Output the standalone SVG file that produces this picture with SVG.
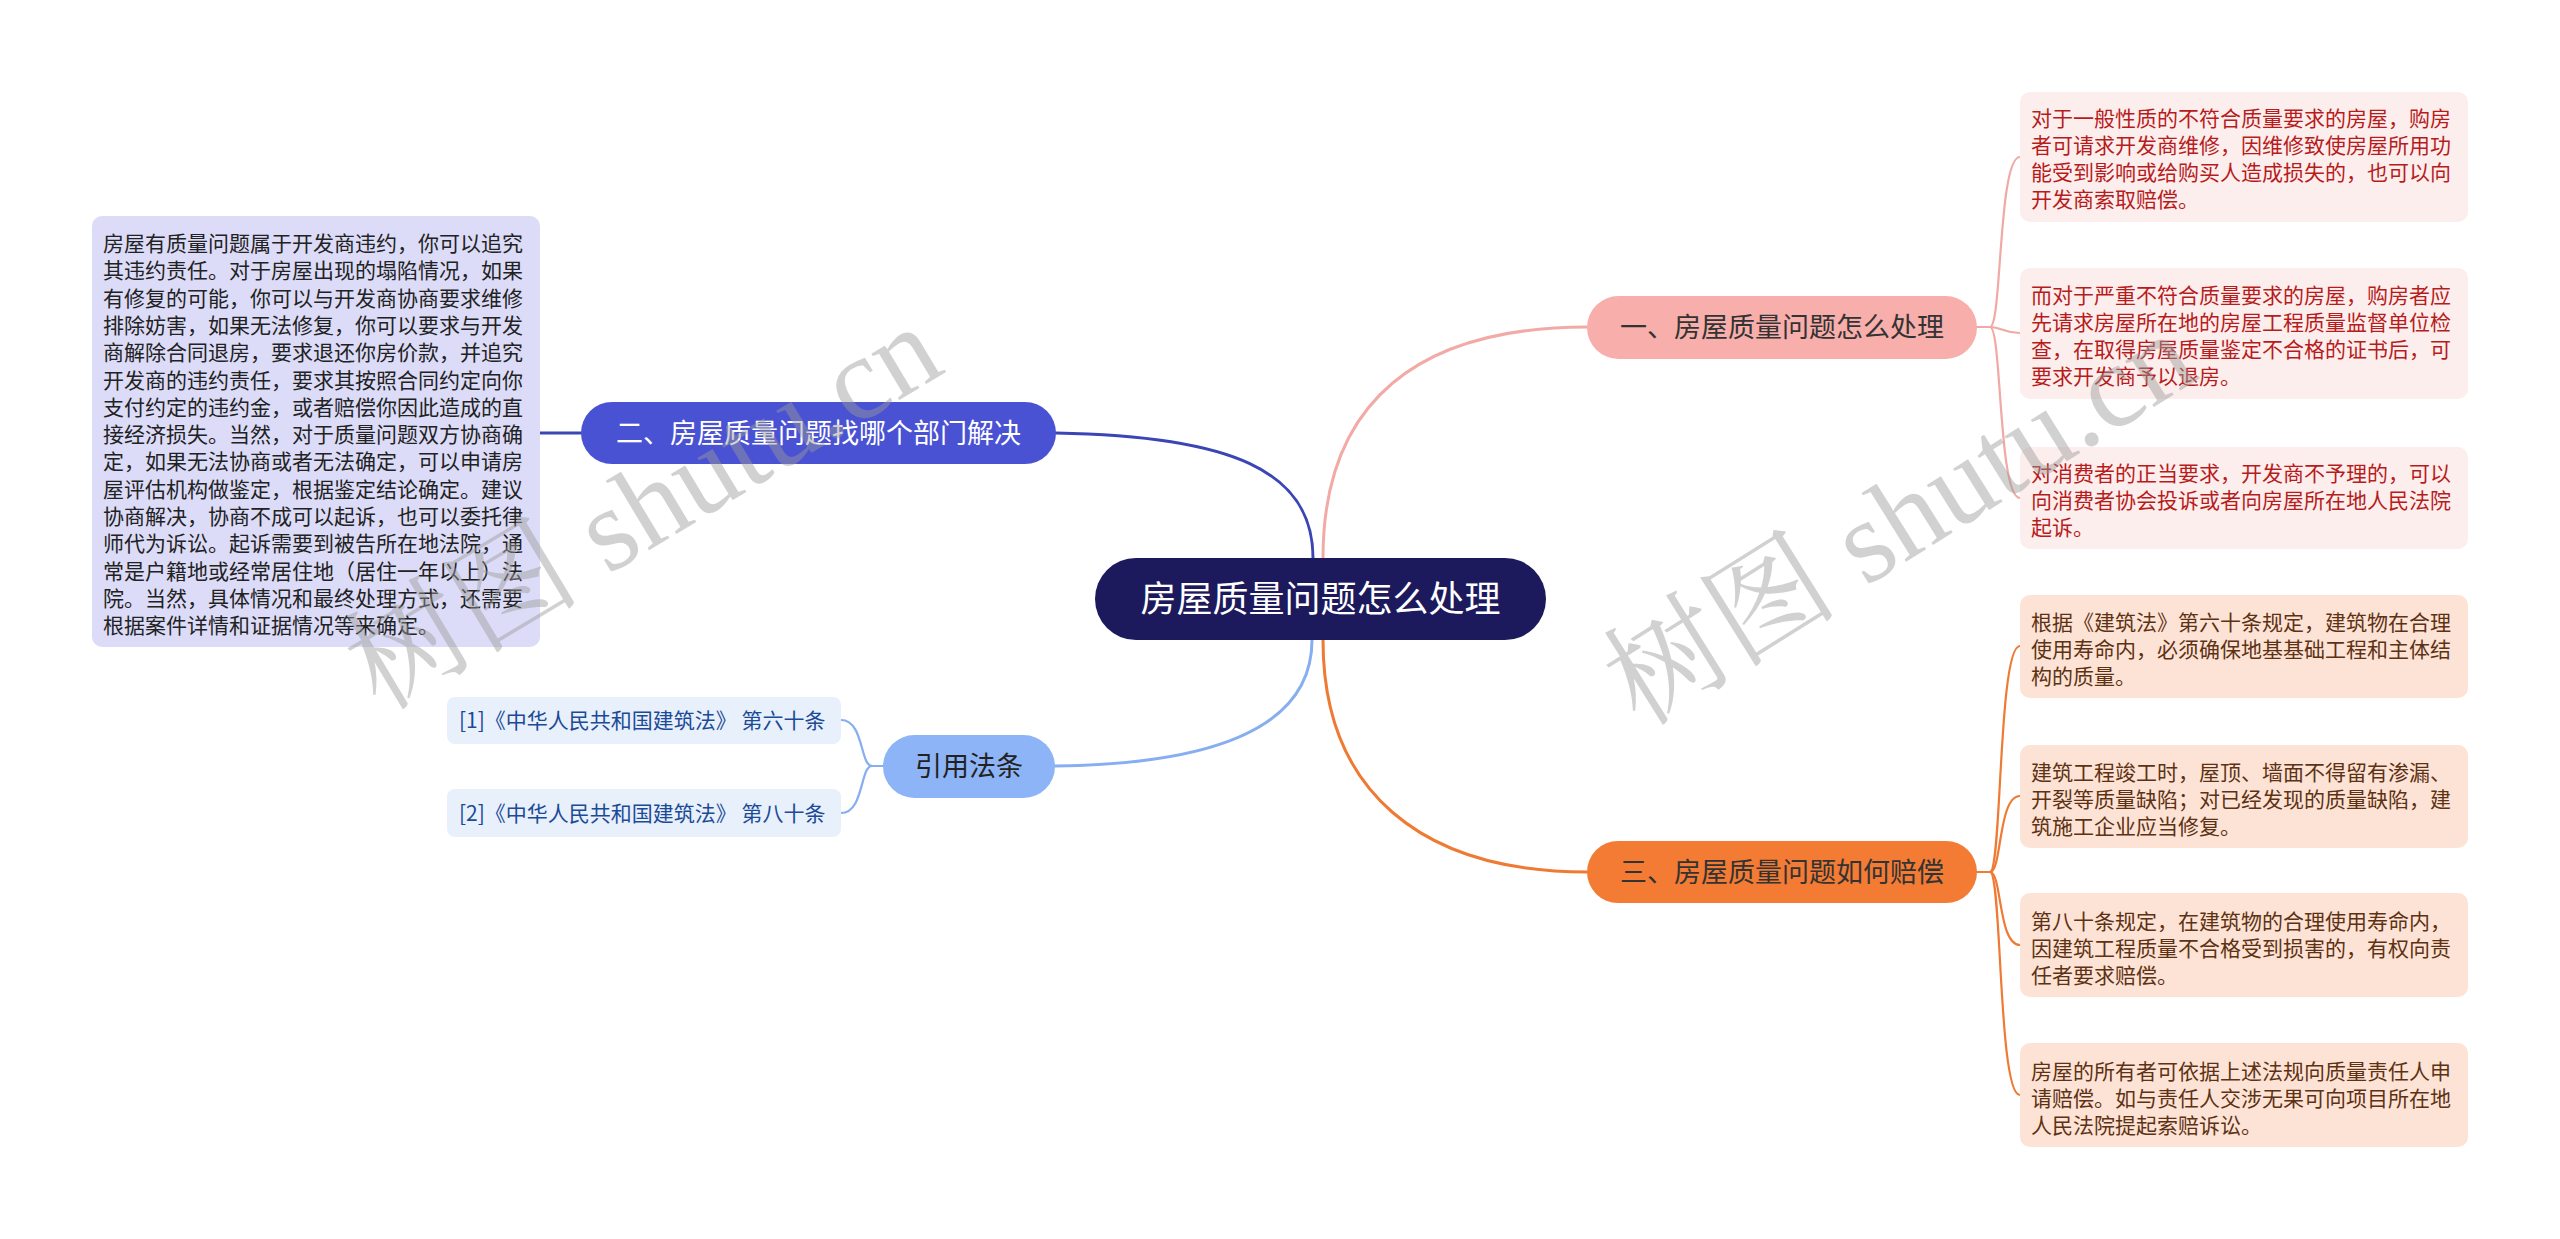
<svg xmlns="http://www.w3.org/2000/svg" width="2560" height="1239" viewBox="0 0 2560 1239">
<style>
text{font-family:"Noto Sans CJK SC","Liberation Sans",sans-serif;}
.conn{fill:none;stroke-width:3;stroke-linecap:round}
.sub{fill:none;stroke-width:2.2;stroke-linecap:round}
.t21{font-size:21px}
.pink{fill:#fdeeee}
.pinkT{fill:#b71c1c}
.org{fill:#fde3d5}
.orgT{fill:#5d3214}
.lav{fill:#dcdcf8}
.lavT{fill:#222222}
.refb{fill:#e8f0fc}
.refT{fill:#1b4a96}
.wm{font-family:"Liberation Serif","Noto Serif CJK SC","Noto Sans CJK SC",serif;font-size:118px;fill:#9a9a9a;opacity:0.45}
</style>
<rect width="2560" height="1239" fill="#ffffff"/>
<g id="connectors">
<path class="conn" stroke="#f2aaa6" d="M1323,558 C1323,400 1420,327 1587,327"/>
<path class="conn" stroke="#3b45b5" d="M1313,558 C1313,470 1230,436 1056,433"/>
<path class="conn" stroke="#86aef0" d="M1312,640 C1312,720 1230,764 1055,766"/>
<path class="conn" stroke="#ee7a34" d="M1323,640 C1323,790 1420,872 1587,872"/>
<path class="conn" stroke="#3b45b5" d="M581,433 H540"/>
<g stroke="#f0a9a5">
<path class="sub" d="M1977,327 L1990,327 C2002,327 1998,157 2020,157"/>
<path class="sub" d="M1977,327 L1990,327 C2002,327 2004,333 2020,333"/>
<path class="sub" d="M1977,327 L1990,327 C2002,327 1998,498 2020,498"/>
</g>
<g stroke="#ee7a34">
<path class="sub" d="M1977,872 L1990,872 C2002,872 1998,646 2020,646"/>
<path class="sub" d="M1977,872 L1990,872 C2002,872 1998,796 2020,796"/>
<path class="sub" d="M1977,872 L1990,872 C2002,872 1998,945 2020,945"/>
<path class="sub" d="M1977,872 L1990,872 C2002,872 1998,1095 2020,1095"/>
</g>
<g stroke="#86aef0">
<path class="sub" d="M883,766 L872,766 C860,766 864,720 841,720"/>
<path class="sub" d="M883,766 L872,766 C860,766 864,813 841,813"/>
</g>
</g>
<g id="center">
<rect x="1095" y="558" width="451" height="82" rx="41" fill="#1c1a5c"/>
<text x="1320.5" y="612" font-size="36" fill="#ffffff" text-anchor="middle">房屋质量问题怎么处理</text>
</g>
<g id="branch1">
<rect x="1587" y="296" width="390" height="63" rx="31.5" fill="#f8aeaa"/>
<text x="1782" y="337" font-size="27" fill="#333333" text-anchor="middle">一、房屋质量问题怎么处理</text>
</g>
<g id="branch2">
<rect x="581" y="402" width="475" height="62" rx="31" fill="#4a52d4"/>
<text x="818.5" y="443" font-size="27" fill="#ffffff" text-anchor="middle">二、房屋质量问题找哪个部门解决</text>
</g>
<g id="branch3">
<rect x="1587" y="841" width="390" height="62" rx="31" fill="#f47b33"/>
<text x="1782" y="882" font-size="27" fill="#333333" text-anchor="middle">三、房屋质量问题如何赔偿</text>
</g>
<g id="refs">
<rect x="883" y="735" width="172" height="63" rx="31.5" fill="#8db4f6"/>
<text x="969" y="776" font-size="27" fill="#222222" text-anchor="middle">引用法条</text>
</g>
<g id="left-detail">
<rect class="lav" x="92" y="216" width="448" height="431" rx="10"/>
<text class="t21 lavT" x="103">
<tspan x="103" y="251">房屋有质量问题属于开发商违约，你可以追究</tspan>
<tspan x="103" y="278.3">其违约责任。对于房屋出现的塌陷情况，如果</tspan>
<tspan x="103" y="305.6">有修复的可能，你可以与开发商协商要求维修</tspan>
<tspan x="103" y="332.9">排除妨害，如果无法修复，你可以要求与开发</tspan>
<tspan x="103" y="360.2">商解除合同退房，要求退还你房价款，并追究</tspan>
<tspan x="103" y="387.5">开发商的违约责任，要求其按照合同约定向你</tspan>
<tspan x="103" y="414.8">支付约定的违约金，或者赔偿你因此造成的直</tspan>
<tspan x="103" y="442.1">接经济损失。当然，对于质量问题双方协商确</tspan>
<tspan x="103" y="469.4">定，如果无法协商或者无法确定，可以申请房</tspan>
<tspan x="103" y="496.7">屋评估机构做鉴定，根据鉴定结论确定。建议</tspan>
<tspan x="103" y="524">协商解决，协商不成可以起诉，也可以委托律</tspan>
<tspan x="103" y="551.3">师代为诉讼。起诉需要到被告所在地法院，通</tspan>
<tspan x="103" y="578.6">常是户籍地或经常居住地（居住一年以上）法</tspan>
<tspan x="103" y="605.9">院。当然，具体情况和最终处理方式，还需要</tspan>
<tspan x="103" y="633.2">根据案件详情和证据情况等来确定。</tspan>
</text>
</g>
<g id="ref1">
<rect class="refb" x="447" y="697" width="394" height="47" rx="8"/>
<text class="t21 refT" x="459" y="728">[1]《中华人民共和国建筑法》 第六十条</text>
</g>
<g id="ref2">
<rect class="refb" x="447" y="789" width="394" height="48" rx="8"/>
<text class="t21 refT" x="459" y="821">[2]《中华人民共和国建筑法》 第八十条</text>
</g>
<g id="p1">
<rect class="pink" x="2020" y="92" width="448" height="130" rx="10"/>
<text class="t21 pinkT">
<tspan x="2031" y="126">对于一般性质的不符合质量要求的房屋，购房</tspan>
<tspan x="2031" y="153">者可请求开发商维修，因维修致使房屋所用功</tspan>
<tspan x="2031" y="180">能受到影响或给购买人造成损失的，也可以向</tspan>
<tspan x="2031" y="207">开发商索取赔偿。</tspan>
</text>
</g>
<g id="p2">
<rect class="pink" x="2020" y="268" width="448" height="131" rx="10"/>
<text class="t21 pinkT">
<tspan x="2031" y="303">而对于严重不符合质量要求的房屋，购房者应</tspan>
<tspan x="2031" y="330">先请求房屋所在地的房屋工程质量监督单位检</tspan>
<tspan x="2031" y="357">查，在取得房屋质量鉴定不合格的证书后，可</tspan>
<tspan x="2031" y="384">要求开发商予以退房。</tspan>
</text>
</g>
<g id="p3">
<rect class="pink" x="2020" y="447" width="448" height="102" rx="10"/>
<text class="t21 pinkT">
<tspan x="2031" y="481">对消费者的正当要求，开发商不予理的，可以</tspan>
<tspan x="2031" y="508">向消费者协会投诉或者向房屋所在地人民法院</tspan>
<tspan x="2031" y="535">起诉。</tspan>
</text>
</g>
<g id="o1">
<rect class="org" x="2020" y="595" width="448" height="103" rx="10"/>
<text class="t21 orgT">
<tspan x="2031" y="630">根据《建筑法》第六十条规定，建筑物在合理</tspan>
<tspan x="2031" y="657">使用寿命内，必须确保地基基础工程和主体结</tspan>
<tspan x="2031" y="684">构的质量。</tspan>
</text>
</g>
<g id="o2">
<rect class="org" x="2020" y="745" width="448" height="103" rx="10"/>
<text class="t21 orgT">
<tspan x="2031" y="780">建筑工程竣工时，屋顶、墙面不得留有渗漏、</tspan>
<tspan x="2031" y="807">开裂等质量缺陷；对已经发现的质量缺陷，建</tspan>
<tspan x="2031" y="834">筑施工企业应当修复。</tspan>
</text>
</g>
<g id="o3">
<rect class="org" x="2020" y="893" width="448" height="104" rx="10"/>
<text class="t21 orgT">
<tspan x="2031" y="929">第八十条规定，在建筑物的合理使用寿命内，</tspan>
<tspan x="2031" y="956">因建筑工程质量不合格受到损害的，有权向责</tspan>
<tspan x="2031" y="983">任者要求赔偿。</tspan>
</text>
</g>
<g id="o4">
<rect class="org" x="2020" y="1043" width="448" height="104" rx="10"/>
<text class="t21 orgT">
<tspan x="2031" y="1079">房屋的所有者可依据上述法规向质量责任人申</tspan>
<tspan x="2031" y="1106">请赔偿。如与责任人交涉无果可向项目所在地</tspan>
<tspan x="2031" y="1133">人民法院提起索赔诉讼。</tspan>
</text>
</g>
<g id="watermarks">
<text class="wm" transform="translate(380,712) rotate(-31)">树图 shutu.cn</text>
<text class="wm" transform="translate(1640,728) rotate(-32)">树图 shutu.cn</text>
</g>
</svg>
